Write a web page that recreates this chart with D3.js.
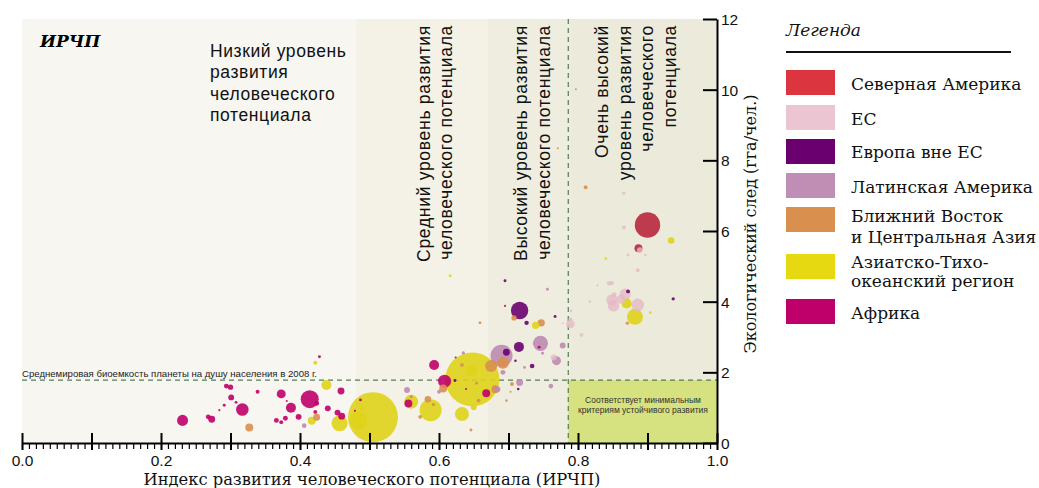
<!DOCTYPE html>
<html>
<head>
<meta charset="utf-8">
<script src="https://cdn.jsdelivr.net/npm/d3@7"></script>
<style>
  body { margin: 0; background: #fff; }
</style>
</head>
<body>
<div class="chartDiv"></div>
<script>
// legend regions
const regions = ['Северная Америка', 'ЕС', 'Европа вне ЕС', 'Латинская Америка',
    'Ближний Восток|и Центральная Азия', 'Азиатско-Тихо-|океанский регион', 'Африка'];
const swatchColors = ['#db3540', '#ecc5d3', '#6a0070', '#c08eb5', '#d98f4e', '#e6d912', '#c0006a'];
const bubbleColors = ['#b8283c', '#e6b9c5', '#6a0070', '#bd8ab1', '#d98f4e', '#dfd31a', '#c0006a'];

// [ИРЧП, экологический след (гга/чел.), население (млн)]
const northAmerica = [[0.900, 6.17, 296], [0.887, 5.51, 29]];
const eu = [
    [0.866, 7.07, 5], [0.866, 6.10, 7], [0.889, 5.46, 16], [0.872, 5.32, 4], [0.897, 5.32, 3],
    [0.886, 4.89, 7], [0.845, 4.52, 10], [0.849, 4.53, 7], [0.828, 4.46, 2], [0.868, 4.21, 60],
    [0.852, 4.20, 10], [0.849, 4.05, 60], [0.851, 3.88, 60], [0.862, 4.07, 37], [0.886, 3.91, 73],
    [0.817, 4.00, 3], [0.790, 3.74, 3], [0.789, 3.50, 7], [0.789, 3.37, 34], [0.778, 3.39, 2],
    [0.805, 3.06, 7], [0.765, 2.42, 16]
];
const europeNonEu = [
    [0.716, 3.75, 139], [0.726, 3.40, 9], [0.767, 3.58, 4], [0.695, 4.59, 4], [0.715, 2.72, 46],
    [0.734, 2.18, 10], [0.710, 2.33, 3], [0.714, 1.53, 3], [0.697, 2.57, 22], [0.872, 4.29, 7],
    [0.937, 4.08, 5], [0.623, 1.77, 4]
];
const latinAmerica = [
    [0.690, 2.47, 222], [0.746, 2.82, 104], [0.778, 2.76, 16], [0.769, 2.33, 37], [0.723, 2.14, 4],
    [0.749, 2.54, 4], [0.635, 2.55, 5], [0.716, 1.71, 22], [0.761, 1.61, 10], [0.692, 2.00, 11],
    [0.684, 1.52, 16], [0.756, 4.35, 4], [0.554, 1.50, 16], [0.600, 1.45, 7], [0.406, 0.49, 10]
];
const middleEast = [
    [0.327, 0.44, 29], [0.424, 0.73, 22], [0.560, 1.31, 5], [0.584, 1.24, 20], [0.592, 1.09, 5],
    [0.573, 0.74, 7], [0.606, 1.54, 29], [0.633, 2.21, 7], [0.654, 1.69, 4], [0.657, 1.20, 7],
    [0.646, 0.37, 4], [0.675, 2.18, 66], [0.692, 2.27, 66], [0.681, 1.52, 29], [0.705, 1.67, 7],
    [0.697, 1.20, 3], [0.703, 1.45, 2], [0.708, 3.54, 13], [0.747, 3.40, 25], [0.659, 3.40, 4],
    [0.811, 7.24, 7], [0.771, 8.34, 2], [0.797, 10.01, 2], [0.871, 3.39, 5]
];
const asiaPacific = [
    [0.648, 1.80, 1340], [0.505, 0.73, 1149], [0.484, 0.63, 149], [0.489, 0.99, 11], [0.647, 2.05, 56],
    [0.457, 0.56, 118], [0.438, 1.64, 46], [0.422, 2.27, 7], [0.417, 0.63, 29], [0.560, 1.17, 90],
    [0.588, 0.93, 222], [0.633, 0.82, 90], [0.650, 1.01, 16], [0.739, 3.33, 25], [0.616, 4.73, 4],
    [0.934, 5.73, 20], [0.840, 5.22, 3], [0.870, 3.95, 46], [0.882, 3.57, 118], [0.904, 3.69, 3],
    [0.484, 1.10, 4]
];
const africa = [
    [0.231, 0.64, 56], [0.273, 0.67, 22], [0.268, 0.74, 11], [0.294, 1.61, 11], [0.300, 1.58, 13],
    [0.301, 1.29, 16], [0.291, 1.07, 4], [0.284, 0.93, 2], [0.308, 1.15, 4], [0.317, 0.95, 73],
    [0.339, 1.45, 7], [0.373, 1.39, 37], [0.366, 0.64, 11], [0.373, 0.59, 7], [0.379, 0.70, 11],
    [0.381, 1.19, 2], [0.387, 1.00, 46], [0.398, 0.74, 16], [0.414, 1.24, 149], [0.424, 1.12, 11],
    [0.422, 0.88, 7], [0.428, 2.44, 4], [0.440, 0.98, 16], [0.459, 1.47, 22], [0.454, 0.86, 16],
    [0.460, 0.76, 22], [0.487, 1.22, 4], [0.479, 0.91, 2], [0.556, 1.12, 29], [0.593, 2.21, 46],
    [0.608, 1.75, 78], [0.639, 1.53, 2], [0.624, 2.42, 2], [0.668, 1.41, 29], [0.695, 3.88, 2],
    [0.744, 2.71, 4]
];
const regionPoints = [northAmerica, eu, europeNonEu, latinAmerica, middleEast, asiaPacific, africa];

// HDI bands
const bandEdges = [0, 0.48, 0.67, 0.786, 1.0];
const bandColors = ['#f7f6f0', '#f4f2e6', '#efeddf', '#ecebdb'];
const biocapacity = 1.78;

const xTicksMajor = d3.range(0, 1.0001, 0.1);
const xTicksMinor = d3.range(0, 1.0001, 0.01);
const yTicks = [0, 2, 4, 6, 8, 10, 12];

const width = 1039;
const height = 488;

const svg = d3.select('.chartDiv')
    .append('svg')
    .attr('width', width)
    .attr('height', height);

const x = d3.scaleLinear().domain([0, 1]).range([22, 717]);
const y = d3.scaleLinear().domain([0, 12]).range([443, 19]);
const r = d3.scaleSqrt().domain([0, 1340]).range([0, 27]);

const sans = 'Liberation Sans, Arial, sans-serif';
const serif = 'DejaVu Serif, serif';

// background bands
svg.selectAll('rect.band')
    .data(bandColors)
    .enter()
    .append('rect')
    .attr('class', 'band')
    .attr('x', (d, i) => x(bandEdges[i]))
    .attr('y', y(12))
    .attr('width', (d, i) => x(bandEdges[i + 1]) - x(bandEdges[i]))
    .attr('height', y(0) - y(12))
    .attr('fill', d => d);

// sustainable development box
svg.append('rect')
    .attr('x', x(bandEdges[3]))
    .attr('y', y(biocapacity))
    .attr('width', x(1) - x(bandEdges[3]))
    .attr('height', y(0) - y(biocapacity))
    .attr('fill', '#d6e180');

svg.append('text')
    .attr('x', 643)
    .attr('y', 403)
    .attr('text-anchor', 'middle')
    .style('font-family', sans)
    .style('font-size', '8.5px')
    .attr('fill', '#333')
    .selectAll('tspan')
    .data(['Соответствует минимальным', 'критериям устойчивого развития'])
    .enter()
    .append('tspan')
    .attr('x', 643)
    .attr('dy', (d, i) => i === 0 ? 0 : 9.5)
    .text(d => d);

// band labels
svg.append('text')
    .attr('x', 40)
    .attr('y', 47)
    .style('font-family', serif)
    .style('font-size', '17px')
    .style('font-weight', 'bold')
    .style('font-style', 'italic')
    .text('ИРЧП');

const lowLines = ['Низкий уровень', 'развития', 'человеческого', 'потенциала'];
svg.append('text')
    .attr('y', 57)
    .style('font-family', sans)
    .style('font-size', '17.5px')
    .style('letter-spacing', '0.6px')
    .attr('fill', '#111')
    .selectAll('tspan')
    .data(lowLines)
    .enter()
    .append('tspan')
    .attr('x', 210)
    .attr('dy', (d, i) => i === 0 ? 0 : 21.3)
    .text(d => d);

const verticalLabels = [
    {lines: ['Средний уровень развития', 'человеческого потенциала'], xs: [430, 452]},
    {lines: ['Высокий уровень развития', 'человеческого потенциала'], xs: [527, 550]},
    {lines: ['Очень высокий', 'уровень развития', 'человеческого', 'потенциала'], xs: [608, 631, 653, 676]}
];
verticalLabels.forEach(lab => {
    lab.lines.forEach((line, i) => {
        svg.append('text')
            .attr('transform', 'translate(' + lab.xs[i] + ',25) rotate(-90)')
            .attr('text-anchor', 'end')
            .style('font-family', sans)
            .style('font-size', '17.5px')
            .style('letter-spacing', '0.7px')
            .attr('fill', '#111')
            .text(line);
    });
});

// biocapacity line and label
svg.append('line')
    .attr('x1', x(0))
    .attr('x2', x(1))
    .attr('y1', y(biocapacity))
    .attr('y2', y(biocapacity))
    .attr('stroke', '#4f7f55')
    .attr('stroke-width', 1.2)
    .attr('stroke-dasharray', '5,4');

svg.append('line')
    .attr('x1', x(bandEdges[3]))
    .attr('x2', x(bandEdges[3]))
    .attr('y1', y(12))
    .attr('y2', y(0))
    .attr('stroke', '#4f7f55')
    .attr('stroke-width', 1.2)
    .attr('stroke-dasharray', '5,4');

svg.append('text')
    .attr('x', 22)
    .attr('y', 377)
    .style('font-family', sans)
    .style('font-size', '9.6px')
    .attr('fill', '#222')
    .text('Среднемировая биоемкость планеты на душу населения в 2008 г.');

// bubbles
const bubbles = [];
regionPoints.forEach((pts, ri) => {
    pts.forEach(p => bubbles.push({hdi: p[0], ef: p[1], pop: p[2], region: ri}));
});
bubbles.sort((a, b) => b.pop - a.pop);

svg.selectAll('circle.bubble')
    .data(bubbles)
    .enter()
    .append('circle')
    .attr('class', 'bubble')
    .attr('cx', d => x(d.hdi))
    .attr('cy', d => y(d.ef))
    .attr('r', d => Math.max(r(d.pop), 1))
    .attr('fill', d => bubbleColors[d.region])
    .attr('fill-opacity', d => d.region === 1 ? 0.8 : 0.9);

// x axis
const xMinor = svg.append('g')
    .attr('transform', 'translate(0,443)')
    .call(d3.axisBottom(x).tickValues(xTicksMinor).tickSize(6).tickSizeOuter(0).tickFormat(''));
xMinor.select('.domain').remove();
xMinor.selectAll('.tick line').attr('stroke-width', 1.2);

const xMajor = svg.append('g')
    .attr('transform', 'translate(0,443)')
    .call(d3.axisBottom(x).tickValues(xTicksMajor).tickSizeOuter(0)
        .tickFormat(d => Math.round(d * 10) % 2 === 0 ? d3.format('.1f')(d) : ''));
xMajor.select('.domain').attr('stroke-width', 2);
xMajor.selectAll('.tick line').attr('y1', 7).attr('y2', -10).attr('stroke-width', 2);
xMajor.selectAll('.tick text')
    .attr('y', 23)
    .attr('dy', null)
    .style('font-family', sans)
    .style('font-size', '15.5px')
    .attr('fill', '#111');

svg.append('text')
    .attr('x', 372)
    .attr('y', 485)
    .attr('text-anchor', 'middle')
    .style('font-family', serif)
    .style('font-size', '16.3px')
    .attr('fill', '#111')
    .text('Индекс развития человеческого потенциала (ИРЧП)');

// y axis
const yAxis = svg.append('g')
    .attr('transform', 'translate(717,0)')
    .call(d3.axisRight(y).tickValues(yTicks).tickSizeInner(-14).tickSizeOuter(0).tickPadding(4));
yAxis.select('.domain').attr('stroke-width', 2);
yAxis.selectAll('.tick line').attr('stroke-width', 2);
yAxis.selectAll('.tick text')
    .attr('dy', '0.36em')
    .style('font-family', sans)
    .style('font-size', '15.5px')
    .attr('fill', '#111');

svg.append('text')
    .attr('transform', 'translate(756,224) rotate(-90)')
    .attr('text-anchor', 'middle')
    .style('font-family', serif)
    .style('font-size', '16px')
    .attr('fill', '#111')
    .text('Экологический след (гга/чел.)');

// legend
svg.append('text')
    .attr('x', 786)
    .attr('y', 36)
    .style('font-family', serif)
    .style('font-size', '17px')
    .style('font-style', 'italic')
    .attr('fill', '#111')
    .text('Легенда');

svg.append('line')
    .attr('x1', 786)
    .attr('x2', 1011)
    .attr('y1', 52)
    .attr('y2', 52)
    .attr('stroke', '#111')
    .attr('stroke-width', 2);

const legendTops = [70, 105, 139, 173, 207, 254, 299];
const legendBaselines = [[90], [125], [158], [193], [222, 243], [268, 287], [319]];

const legend = svg.selectAll('g.legendItem')
    .data(regions)
    .enter()
    .append('g')
    .attr('class', 'legendItem');

legend.append('rect')
    .attr('x', 786)
    .attr('y', (d, i) => legendTops[i])
    .attr('width', 49)
    .attr('height', 25)
    .attr('fill', (d, i) => swatchColors[i]);

legend.each(function (d, i) {
    const lines = d.split('|');
    lines.forEach((line, j) => {
        d3.select(this).append('text')
            .attr('x', 851)
            .attr('y', legendBaselines[i][j])
            .style('font-family', serif)
            .style('font-size', '17px')
            .attr('fill', '#111')
            .text(line);
    });
});
</script>
</body>
</html>
